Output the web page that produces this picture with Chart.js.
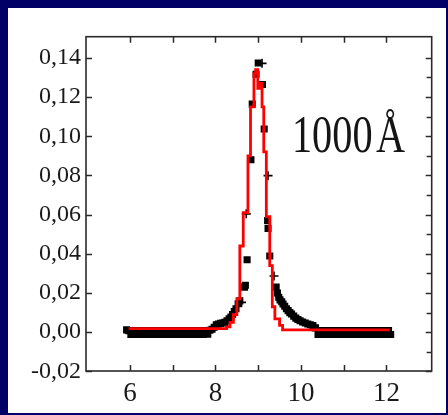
<!DOCTYPE html>
<html><head><meta charset="utf-8">
<script src="https://cdn.jsdelivr.net/npm/chart.js@4/dist/chart.umd.min.js"></script>
<style>
html,body{margin:0;padding:0;background:#000066;width:448px;height:415px;overflow:hidden}
#wrap{position:absolute;left:8px;top:8px;width:438px;height:405px;background:#fff}
canvas{display:block}
</style></head><body><div id="wrap"><canvas id="c" width="438" height="405"></canvas></div>
<script>
// ---- data ----
const xTickValues = [6, 8, 10, 12];
const xMinorTicks = [7, 9, 11];
const yTickValues = [-0.02, 0, 0.02, 0.04, 0.06, 0.08, 0.10, 0.12, 0.14];
const yMinorTicks = [-0.01, 0.01, 0.03, 0.05, 0.07, 0.09, 0.11, 0.13];

// measured points (black squares): left baseline
const baseLeftX = [5.92, 5.97, 6.02, 6.07, 6.12, 6.17, 6.22, 6.27, 6.32, 6.37, 6.42, 6.47, 6.52, 6.57, 6.62, 6.67, 6.72, 6.77, 6.82, 6.87,
  6.92, 6.97, 7.02, 7.07, 7.12, 7.17, 7.22, 7.27, 7.32, 7.37, 7.42, 7.47, 7.52, 7.57, 7.62, 7.67, 7.72, 7.77, 7.82, 7.87, 7.92];
const baseLeftY = [0.0012, 0.0008, -0.0012, 0.0008, -0.0012, 0.0008, -0.0012, 0.0008, -0.0012, 0.0008, -0.0012, 0.0008, -0.0012, 0.0008, -0.0012, 0.0008, -0.0012, 0.0008, -0.0012, 0.0008,
  -0.0012, 0.0008, -0.0012, 0.0008, -0.0012, 0.0008, -0.0012, 0.0008, -0.0012, 0.0008, -0.0012, 0.0008, -0.0012, 0.0008, -0.0012, 0.0008, -0.0012, 0.0008, -0.0010, 0.0010, 0.0015];
// peak region
const peakX = [7.97, 8.02, 8.07, 8.12, 8.17, 8.22, 8.27, 8.32, 8.36, 8.40, 8.44, 8.48, 8.53, 8.57, 8.68, 8.70, 8.74, 8.83, 8.86, 8.95, 9.00, 9.10, 9.14, 9.22, 9.23, 9.27,
  9.42, 9.45, 9.48, 9.51, 9.55, 9.58, 9.62, 9.66, 9.70, 9.74, 9.78, 9.83, 9.88, 9.93, 9.98, 10.04, 10.10, 10.16, 10.22, 10.28, 10.34];
const peakY = [0.0025, 0.0038, 0.0042, 0.0045, 0.0047, 0.0050, 0.0058, 0.0068, 0.0078, 0.0090, 0.0105, 0.0120, 0.0145, 0.0160, 0.0230, 0.0240, 0.0370, 0.0880, 0.1164, 0.1316, 0.1374, 0.1264, 0.1037, 0.0570, 0.0530, 0.0389,
  0.0230, 0.0200, 0.0178, 0.0165, 0.0155, 0.0144, 0.0132, 0.0120, 0.0110, 0.0100, 0.0093, 0.0082, 0.0072, 0.0065, 0.0058, 0.0052, 0.0047, 0.0042, 0.0038, 0.0034, 0.0022];
// right baseline
const baseRightX = [10.40, 10.45, 10.50, 10.55, 10.60, 10.65, 10.70, 10.75, 10.80, 10.85, 10.90, 10.95, 11.00, 11.05, 11.10, 11.15, 11.20, 11.25,
  11.30, 11.35, 11.40, 11.45, 11.50, 11.55, 11.60, 11.65, 11.70, 11.75, 11.80, 11.85, 11.90, 11.95, 12.00, 12.05, 12.10];
const baseRightY = [-0.0012, 0.0008, -0.0012, 0.0008, -0.0012, 0.0008, -0.0012, 0.0008, -0.0012, 0.0008, -0.0012, 0.0008, -0.0012, 0.0008, -0.0012, 0.0008, -0.0012, 0.0008,
  -0.0012, 0.0008, -0.0012, 0.0008, -0.0012, 0.0008, -0.0012, 0.0008, -0.0012, 0.0008, -0.0012, 0.0008, -0.0012, 0.0008, -0.0012, 0.0008, -0.0012];

// cross markers
const crossX = [8.61, 8.72, 9.09, 9.23, 9.37];
const crossY = [0.0152, 0.0604, 0.1372, 0.0799, 0.0287];

// fitted curve (red, stepped)
const fitX = [6.00, 8.26, 8.34, 8.42, 8.50, 8.57, 8.65, 8.76, 8.82, 8.90, 8.94, 8.99, 9.05, 9.09, 9.13, 9.19, 9.27, 9.33, 9.39, 9.50, 9.57, 9.69, 12.08];
const fitY = [0.0012, 0.0018, 0.0027, 0.0050, 0.0090, 0.0170, 0.0440, 0.0610, 0.0900, 0.1150, 0.1320, 0.1340, 0.1245, 0.1270, 0.1150, 0.0920, 0.0590, 0.0340, 0.0130, 0.0068, 0.0035, 0.0012, 0.0012];

const labelText = '1000\u200AÅ';
const labelPos = [9.79, 0.0918];

// ---- chart ----
const pts = (xs, ys) => xs.map((x, i) => ({x: x, y: ys[i]}));
const fmt = v => (Math.abs(v) < 1e-9 ? 0 : v).toFixed(2).replace('.', ',');

const framePlugin = {
  id: 'frame',
  afterDraw(chart) {
    const ctx = chart.ctx, a = chart.chartArea;
    const xs = chart.scales.x, ys = chart.scales.y;
    ctx.save();
    ctx.strokeStyle = '#2a2a2a';
    ctx.lineWidth = 1.6;
    ctx.strokeRect(a.left, a.top, a.right - a.left, a.bottom - a.top);
    ctx.lineWidth = 1.5;
    ctx.beginPath();
    const xt = xTickValues.concat(xMinorTicks);
    xt.forEach(v => {
      const px = Math.round(xs.getPixelForValue(v)) + 0.5;
      ctx.moveTo(px, a.bottom); ctx.lineTo(px, a.bottom - 6);
      ctx.moveTo(px, a.top); ctx.lineTo(px, a.top + 6);
    });
    yTickValues.forEach(v => {
      const py = Math.round(ys.getPixelForValue(v)) + 0.5;
      ctx.moveTo(a.left, py); ctx.lineTo(a.left + 6, py);
      ctx.moveTo(a.right, py); ctx.lineTo(a.right - 6, py);
    });
    yMinorTicks.forEach(v => {
      const py = Math.round(ys.getPixelForValue(v)) + 0.5;
      ctx.moveTo(a.right, py); ctx.lineTo(a.right - 5, py);
    });
    ctx.stroke();
    // annotation text
    const tx = xs.getPixelForValue(labelPos[0]);
    const ty = ys.getPixelForValue(labelPos[1]);
    ctx.translate(tx, ty);
    ctx.scale(0.76, 1);
    ctx.fillStyle = '#151515';
    ctx.font = '53px "Liberation Serif", "DejaVu Serif", serif';
    ctx.textBaseline = 'alphabetic';
    ctx.textAlign = 'left';
    ctx.fillText(labelText, 0, 0);
    ctx.restore();
  }
};

const sq = {pointStyle: 'rect', pointRadius: 5, backgroundColor: '#000', borderColor: '#000', borderWidth: 0, order: 2};

new Chart(document.getElementById('c'), {
  type: 'scatter',
  data: {
    datasets: [
      {
        label: 'fit', data: pts(fitX, fitY), showLine: true, stepped: 'after',
        borderColor: '#ff0000', borderWidth: 2.8, pointRadius: 0, fill: false, order: 0
      },
      Object.assign({label: 'base left', data: pts(baseLeftX, baseLeftY)}, sq),
      Object.assign({label: 'peak', data: pts(peakX, peakY)}, sq),
      Object.assign({label: 'base right', data: pts(baseRightX, baseRightY)}, sq),
      {
        label: 'cross', data: pts(crossX, crossY), pointStyle: 'cross', pointRadius: 4.5,
        borderColor: '#000', borderWidth: 1.6, order: 1
      }
    ]
  },
  options: {
    responsive: false, animation: false, devicePixelRatio: 1,
    layout: {padding: {top: 28.7, right: 14.3, left: 0, bottom: 0}},
    plugins: {legend: {display: false}, tooltip: {enabled: false}},
    scales: {
      x: {
        type: 'linear', min: 4.97, max: 13.06,
        afterBuildTicks: s => { s.ticks = xTickValues.map(v => ({value: v})); },
        afterFit: s => { s.height = 42; },
        grid: {display: false, drawTicks: false}, border: {display: false},
        ticks: {font: {family: '"Liberation Serif", serif', size: 27}, color: '#1a1a1a', padding: 7, maxRotation: 0, autoSkip: false}
      },
      y: {
        type: 'linear', min: -0.0198, max: 0.1508,
        afterBuildTicks: s => { s.ticks = yTickValues.map(v => ({value: v})); },
        afterFit: s => { s.width = 78; },
        grid: {display: false, drawTicks: false}, border: {display: false},
        ticks: {font: {family: '"Liberation Serif", serif', size: 24}, color: '#1a1a1a', padding: 5, autoSkip: false, callback: v => fmt(v)}
      }
    }
  },
  plugins: [framePlugin]
});
</script></body></html>
